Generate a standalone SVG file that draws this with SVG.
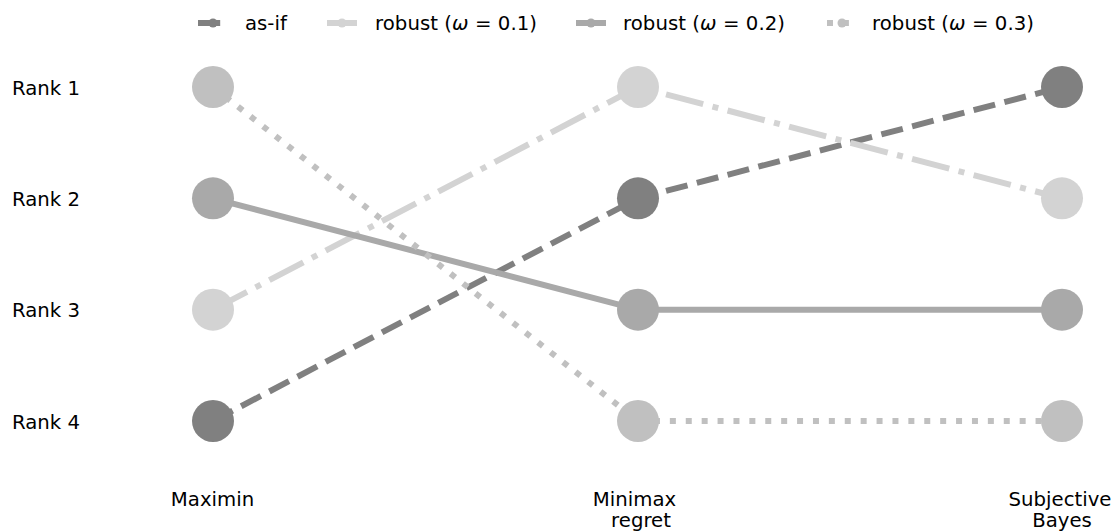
<svg xmlns="http://www.w3.org/2000/svg" width="1118" height="532" viewBox="0 0 1118 532">
<style>
text{font-family:"DejaVu Sans","Liberation Sans",sans-serif;font-size:19.7px;fill:#000}
.l{fill:none;stroke-width:6;stroke-linecap:butt;stroke-linejoin:round}
.asif{stroke:#808080;stroke-dasharray:22.2 9.6}
.r1{stroke:#d3d3d3;stroke-dasharray:38.4 9.6 6 9.6}
.r2{stroke:#a9a9a9}
.r3{stroke:#c0c0c0;stroke-dasharray:6 9.9}
.c0{fill:#808080}.c1{fill:#d3d3d3}.c2{fill:#a9a9a9}.c3{fill:#c0c0c0}
.m{text-anchor:middle}
.w{font-style:italic}
</style>
<rect width="1118" height="532" fill="#fff"/>
<g id="legend">
<line class="l asif" x1="198" y1="23" x2="228" y2="23"/><circle class="c0" cx="213" cy="23" r="4.5"/>
<text x="245" y="30">as-if</text>
<line class="l r1" x1="327" y1="23" x2="357" y2="23"/><circle class="c1" cx="342" cy="23" r="4.5"/>
<text x="375" y="30" textLength="162">robust (<tspan class="w">ω</tspan> = 0.1)</text>
<line class="l r2" x1="576" y1="23" x2="606" y2="23"/><circle class="c2" cx="591" cy="23" r="4.5"/>
<text x="623" y="30" textLength="162">robust (<tspan class="w">ω</tspan> = 0.2)</text>
<line class="l r3" x1="827" y1="23" x2="857" y2="23"/><circle class="c3" cx="842" cy="23" r="4.5"/>
<text x="872" y="30" textLength="162">robust (<tspan class="w">ω</tspan> = 0.3)</text>
</g>
<g id="axis-labels">
<text x="12" y="94.5">Rank 1</text>
<text x="12" y="205.5">Rank 2</text>
<text x="12" y="317">Rank 3</text>
<text x="12" y="428.5">Rank 4</text>
<text class="m" x="212.5" y="506">Maximin</text>
<text class="m" x="634.5" y="506">Minimax</text>
<text class="m" x="641" y="527">regret</text>
<text class="m" x="1060" y="506">Subjective</text>
<text class="m" x="1062" y="527">Bayes</text>
</g>
<g id="connectors">
<polyline class="l asif" points="213,421 638,198.3 1062,87"/>
<polyline class="l r1" points="213,309.7 638,87 1062,198.3"/>
<polyline class="l r2" points="213,198.3 638,309.7 1062,309.7"/>
<polyline class="l r3" points="213,87 638,421 1062,421"/>
</g>
<g id="nodes">
<g id="maximin-1"><circle class="c3" cx="213" cy="87" r="21"/></g>
<g id="maximin-2"><circle class="c2" cx="213" cy="198.3" r="21"/></g>
<g id="maximin-3"><circle class="c1" cx="213" cy="309.7" r="21"/></g>
<g id="maximin-4"><circle class="c0" cx="213" cy="421" r="21"/></g>
<g id="minimax-1"><circle class="c1" cx="638" cy="87" r="21"/></g>
<g id="minimax-2"><circle class="c0" cx="638" cy="198.3" r="21"/></g>
<g id="minimax-3"><circle class="c2" cx="638" cy="309.7" r="21"/></g>
<g id="minimax-4"><circle class="c3" cx="638" cy="421" r="21"/></g>
<g id="bayes-1"><circle class="c0" cx="1062" cy="87" r="21"/></g>
<g id="bayes-2"><circle class="c1" cx="1062" cy="198.3" r="21"/></g>
<g id="bayes-3"><circle class="c2" cx="1062" cy="309.7" r="21"/></g>
<g id="bayes-4"><circle class="c3" cx="1062" cy="421" r="21"/></g>
</g>
</svg>
